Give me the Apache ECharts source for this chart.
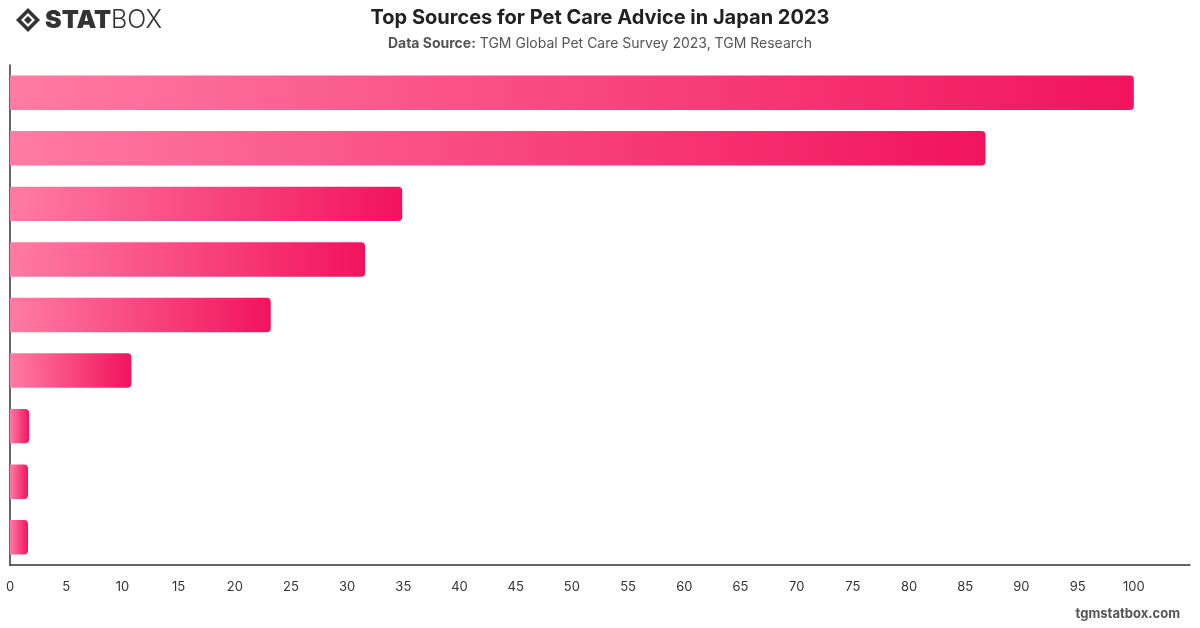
<!DOCTYPE html>
<html>
<head>
<meta charset="utf-8">
<script src="https://cdn.jsdelivr.net/npm/echarts@6/dist/echarts.min.js"></script>
<style>
  html, body { margin: 0; padding: 0; background: #fff; }
  #chart { width: 1200px; height: 628px; }
</style>
</head>
<body>
<div id="chart"></div>
<script>
// sources, top to bottom (names are not readable in the picture)
var sources = ['Source 1', 'Source 2', 'Source 3', 'Source 4', 'Source 5', 'Source 6', 'Source 7', 'Source 8', 'Source 9'];
var scores = [100, 86.8, 34.9, 31.6, 23.2, 10.8, 1.7, 1.6, 1.6];
var tickStep = 5;
var axisMax = 105;

var myChart = echarts.init(document.getElementById('chart'));

// each bar fades from light pink to deep pink
var barColor = new echarts.graphic.LinearGradient(0, 0, 1, 0, [
  {offset: 0, color: '#ff7ba4'},
  {offset: 1, color: '#f2135e'}
]);

var option = {
  backgroundColor: '#fff',
  animation: false,
  title: {
    text: 'Top Sources for Pet Care Advice in Japan 2023',
    left: 'center',
    top: 3,
    textStyle: {
      fontFamily: 'Inter',
      fontSize: 20,
      fontWeight: 'bold',
      color: '#222'
    },
    subtext: '{b|Data Source:} TGM Global Pet Care Survey 2023, TGM Research',
    itemGap: 9,
    subtextStyle: {
      fontFamily: 'Inter',
      fontSize: 14,
      color: '#555',
      rich: {
        b: {fontFamily: 'Inter', fontSize: 14, fontWeight: 'bold', color: '#555'}
      }
    }
  },
  grid: {
    left: 10,
    right: 10,
    top: 65,
    bottom: 63
  },
  xAxis: {
    type: 'value',
    min: 0,
    max: axisMax,
    interval: tickStep,
    axisLine: {show: true, lineStyle: {color: '#333', width: 1.5}},
    axisTick: {show: false},
    splitLine: {show: false},
    axisLabel: {
      margin: 16,
      fontFamily: 'Inter',
      fontSize: 13,
      color: '#333',
      formatter: function (v) { return v > 100 ? '' : v; }
    }
  },
  yAxis: {
    type: 'category',
    data: sources,
    inverse: true,
    axisLine: {show: true, lineStyle: {color: '#333', width: 1.5}},
    axisTick: {show: false},
    axisLabel: {show: false},
    splitLine: {show: false}
  },
  series: [{
    type: 'bar',
    data: scores,
    barCategoryGap: '38%',
    itemStyle: {
      color: barColor,
      borderRadius: [0, 4, 4, 0]
    }
  }],
  graphic: [
    {
      type: 'group',
      left: 16,
      top: 8,
      children: [
        {type: 'polygon', shape: {points: [[12, 0], [24, 12], [12, 24], [0, 12]]}, style: {fill: '#333'}},
        {type: 'polygon', shape: {points: [[12, 5], [19, 12], [12, 19], [5, 12]]}, style: {fill: '#fff'}},
        {type: 'polygon', shape: {points: [[12, 8], [16, 12], [12, 16], [8, 12]]}, style: {fill: '#333'}},
        {type: 'text', left: 29, top: 0, style: {text: 'STAT', font: '900 25px Inter', fill: '#333'}},
        {type: 'text', left: 95, top: 0, style: {text: 'BOX', font: '300 25px Inter', fill: '#333'}}
      ]
    },
    {
      type: 'text',
      right: 20,
      bottom: 7,
      style: {text: 'tgmstatbox.com', font: 'bold 13px Inter', fill: '#555'}
    }
  ]
};

myChart.setOption(option);
</script>
</body>
</html>
